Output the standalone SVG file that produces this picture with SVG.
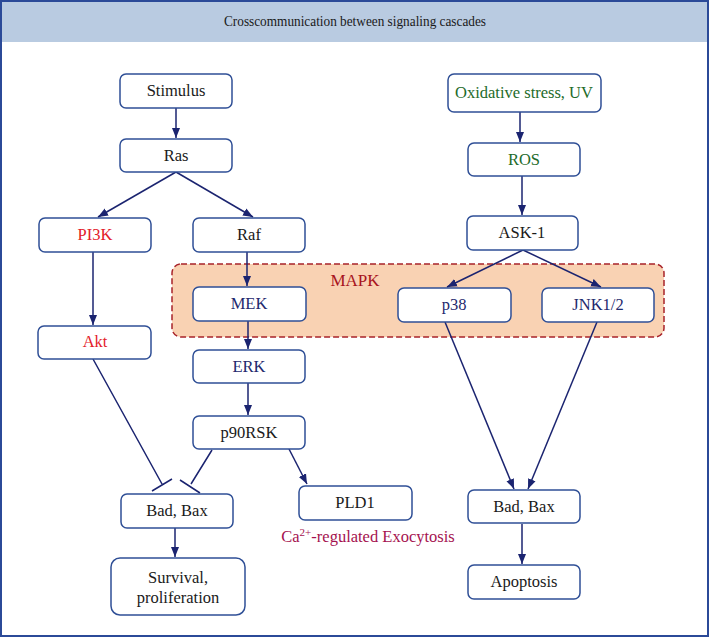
<svg xmlns="http://www.w3.org/2000/svg" width="709" height="637" viewBox="0 0 709 637" font-family="'Liberation Serif','DejaVu Serif',serif">
<style>
.n{fill:#fff;stroke:#2f4f96;stroke-width:1.5}
.t{font-family:"Liberation Serif","DejaVu Serif",serif;font-size:16.5px;text-anchor:middle;fill:#1a1a1a}
.c{stroke:#1b2470;stroke-width:1.5;fill:none}
.red{fill:#e3202a}.navy{fill:#1f2a6e}.green{fill:#1e6b2a}
</style>
<defs>
<marker id="a" viewBox="0 0 10 10" refX="10" refY="5" markerWidth="10" markerHeight="10" markerUnits="userSpaceOnUse" orient="auto"><path d="M0,1 L10,5 L0,9 Z" fill="#1b2470"/></marker>
</defs>
<rect x="0" y="0" width="709" height="637" fill="#fff"/>
<rect x="1" y="1" width="707" height="41" fill="#b9cbe1"/>
<rect x="1" y="1" width="707" height="635" fill="none" stroke="#2b4a98" stroke-width="2"/>
<text x="355" y="26" class="t" style="font-size:15.5px" textLength="262" lengthAdjust="spacingAndGlyphs">Crosscommunication between signaling cascades</text>
<g id="mapk">
<rect x="172" y="264" width="492" height="73" rx="9" fill="#f9d2b3" stroke="#a8232a" stroke-width="1.5" stroke-dasharray="6,3"/>
<text x="355" y="286" class="t" style="fill:#a8141e;font-size:17px">MAPK</text>
</g>
<g id="connectors">
<path class="c" d="M176,108 V138" marker-end="url(#a)"/>
<path class="c" d="M176,172 L98,217" marker-end="url(#a)"/>
<path class="c" d="M176,172 L253,217" marker-end="url(#a)"/>
<path class="c" d="M247,252 V286" marker-end="url(#a)"/>
<path class="c" d="M93,252 V325" marker-end="url(#a)"/>
<path class="c" d="M248,321 V349" marker-end="url(#a)"/>
<path class="c" d="M248,383 V415" marker-end="url(#a)"/>
<path class="c" d="M93,359 L162,484 M152,491 L172,479"/>
<path class="c" d="M212,450 L191,484 M180,480 L200,493"/>
<path class="c" d="M289,449 L307,484" marker-end="url(#a)"/>
<path class="c" d="M175,528 V557" marker-end="url(#a)"/>
<path class="c" d="M520,112 V142" marker-end="url(#a)"/>
<path class="c" d="M522,176 V215" marker-end="url(#a)"/>
<path class="c" d="M523,250 L447,287" marker-end="url(#a)"/>
<path class="c" d="M523,250 L601,287" marker-end="url(#a)"/>
<path class="c" d="M445,322 L514,489" marker-end="url(#a)"/>
<path class="c" d="M597,322 L528,489" marker-end="url(#a)"/>
<path class="c" d="M522,524 V564" marker-end="url(#a)"/>
</g>
<g id="stimulus"><rect class="n" x="120" y="74" width="112" height="34" rx="6"/><text x="176" y="96" class="t">Stimulus</text></g>
<g id="ras"><rect class="n" x="120" y="139" width="112" height="33" rx="6"/><text x="176" y="161" class="t">Ras</text></g>
<g id="pi3k"><rect class="n" x="39" y="218" width="112" height="34" rx="6"/><text x="95" y="240" class="t red">PI3K</text></g>
<g id="raf"><rect class="n" x="193" y="218" width="112" height="34" rx="6"/><text x="249" y="240" class="t">Raf</text></g>
<g id="oxidative"><rect class="n" x="448" y="74" width="153" height="38" rx="6"/><text x="524" y="98" class="t green">Oxidative stress, UV</text></g>
<g id="ros"><rect class="n" x="468" y="143" width="112" height="33" rx="6"/><text x="524" y="165" class="t green">ROS</text></g>
<g id="ask1"><rect class="n" x="467" y="216" width="111" height="34" rx="6"/><text x="522" y="238" class="t">ASK-1</text></g>
<g id="mek"><rect class="n" x="193" y="287" width="113" height="34" rx="6"/><text x="249" y="309" class="t navy">MEK</text></g>
<g id="p38"><rect class="n" x="398" y="288" width="113" height="34" rx="6"/><text x="454" y="310" class="t navy">p38</text></g>
<g id="jnk"><rect class="n" x="542" y="288" width="112" height="34" rx="6"/><text x="598" y="310" class="t navy">JNK1/2</text></g>
<g id="akt"><rect class="n" x="38" y="326" width="113" height="33" rx="6"/><text x="95" y="347" class="t red">Akt</text></g>
<g id="erk"><rect class="n" x="193" y="350" width="112" height="33" rx="6"/><text x="249" y="372" class="t navy">ERK</text></g>
<g id="p90rsk"><rect class="n" x="193" y="416" width="112" height="33" rx="6"/><text x="249" y="438" class="t">p90RSK</text></g>
<g id="badbax1"><rect class="n" x="121" y="494" width="112" height="34" rx="6"/><text x="177" y="516" class="t">Bad, Bax</text></g>
<g id="survival"><rect class="n" x="111" y="558" width="134" height="57" rx="9"/><text x="178" y="583" class="t">Survival,</text><text x="178" y="603" class="t">proliferation</text></g>
<g id="pld1"><rect class="n" x="299" y="486" width="113" height="34" rx="6"/><text x="355" y="508" class="t">PLD1</text></g>
<g id="exocytosis"><text x="368" y="542" class="t" style="fill:#a5124f">Ca<tspan dy="-6" font-size="11">2+</tspan><tspan dy="6">-regulated Exocytosis</tspan></text></g>
<g id="badbax2"><rect class="n" x="468" y="490" width="112" height="33" rx="6"/><text x="524" y="512" class="t">Bad, Bax</text></g>
<g id="apoptosis"><rect class="n" x="468" y="565" width="112" height="34" rx="6"/><text x="524" y="587" class="t">Apoptosis</text></g>
</svg>
